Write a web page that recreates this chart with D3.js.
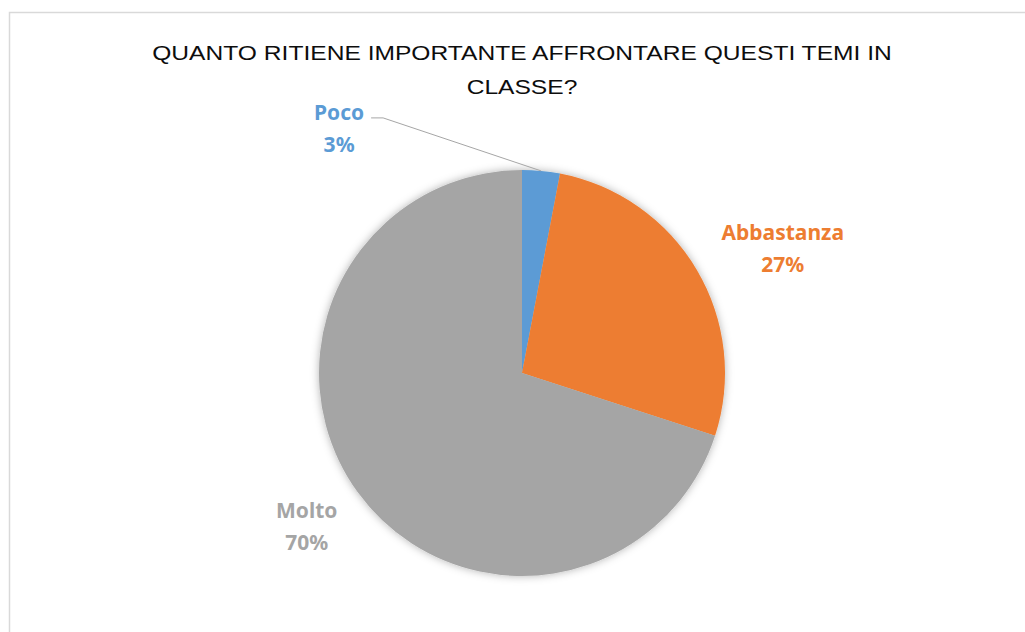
<!DOCTYPE html>
<html>
<head>
<meta charset="utf-8">
<script src="https://cdn.jsdelivr.net/npm/d3@7"></script>
<style>
  html, body { margin: 0; padding: 0; background: #fff; }
  svg { display: block; }
</style>
</head>
<body>
<div id="chart"></div>
<script>
// dati del grafico
const titleLines = ['QUANTO RITIENE IMPORTANTE AFFRONTARE QUESTI TEMI IN', 'CLASSE?'];
const categories = ['Poco', 'Abbastanza', 'Molto'];
const values = [3, 27, 70];
const colors = ['#5B9BD5', '#ED7D31', '#A5A5A5'];

const width = 1025;
const height = 632;
const cx = 522, cy = 373, radius = 203;
const titleFont = '"Liberation Sans", Arial, sans-serif';
const labelFont = '"Noto Sans", "Open Sans", sans-serif';
const titleWidth = 740;

// spostamento delle etichette rispetto al bordo della fetta
const labelOffset = {
  'Poco': [-202, -43],
  'Abbastanza': [86, -22],
  'Molto': [-51, 34]
};

const svg = d3.select('#chart').append('svg')
  .attr('width', width)
  .attr('height', height);

const defs = svg.append('defs');
const shadow = defs.append('filter')
  .attr('id', 'shadow')
  .attr('x', '-20%').attr('y', '-20%')
  .attr('width', '140%').attr('height', '140%');
shadow.append('feDropShadow')
  .attr('dx', 0).attr('dy', 0)
  .attr('stdDeviation', 4)
  .attr('flood-color', '#000')
  .attr('flood-opacity', 0.3);

// cornice del grafico
svg.append('rect')
  .attr('x', 9.5).attr('y', 12.5)
  .attr('width', 1040).attr('height', 640)
  .attr('fill', '#fff')
  .attr('stroke', '#d9d9d9')
  .attr('stroke-width', 1.5);

// titolo (allargato come nell'originale)
const titles = svg.append('g')
  .selectAll('text')
  .data(titleLines)
  .join('text')
  .attr('text-anchor', 'middle')
  .attr('font-family', titleFont)
  .attr('font-size', 21)
  .attr('fill', '#0d0d0d')
  .text(d => d);

const stretch = titleWidth / titles.node().getComputedTextLength();
titles.attr('transform', (d, i) =>
  'translate(' + cx + ',' + (60 + i * 34) + ') scale(' + stretch + ',1)');

const data = categories.map((c, i) => ({ name: c, value: values[i], color: colors[i] }));

const pie = d3.pie().sort(null).value(d => d.value);
const arc = d3.arc().innerRadius(0).outerRadius(radius);
const arcs = pie(data);

const g = svg.append('g')
  .attr('transform', 'translate(' + cx + ',' + cy + ')');

g.append('g')
  .attr('filter', 'url(#shadow)')
  .selectAll('path')
  .data(arcs)
  .join('path')
  .attr('d', arc)
  .attr('fill', d => d.data.color);

// punto sul bordo della fetta
const edgePoint = (d) => {
  const a = (d.startAngle + d.endAngle) / 2;
  return [radius * Math.sin(a), -radius * Math.cos(a)];
};

// linea guida per "Poco"
const poco = arcs[0];
const p = edgePoint(poco);
const off = labelOffset[poco.data.name];
g.append('polyline')
  .attr('points', [
    [p[0], p[1]],
    [p[0] + off[0] + 44, p[1] + off[1] - 10],
    [p[0] + off[0] + 32, p[1] + off[1] - 10]
  ].map(q => q.join(',')).join(' '))
  .attr('fill', 'none')
  .attr('stroke', '#a6a6a6')
  .attr('stroke-width', 1);

// etichette
const labels = g.append('g')
  .selectAll('text')
  .data(arcs)
  .join('text')
  .attr('text-anchor', 'middle')
  .attr('font-family', labelFont)
  .attr('font-weight', 'bold')
  .attr('font-size', 21)
  .attr('fill', d => d.data.color)
  .attr('transform', d => {
    const e = edgePoint(d);
    const o = labelOffset[d.data.name];
    return 'translate(' + (e[0] + o[0]) + ',' + (e[1] + o[1]) + ')';
  });

labels.append('tspan')
  .attr('x', 0)
  .attr('y', -8)
  .text(d => d.data.name);

labels.append('tspan')
  .attr('x', 0)
  .attr('y', 24)
  .text(d => d.data.value + '%');
</script>
</body>
</html>
